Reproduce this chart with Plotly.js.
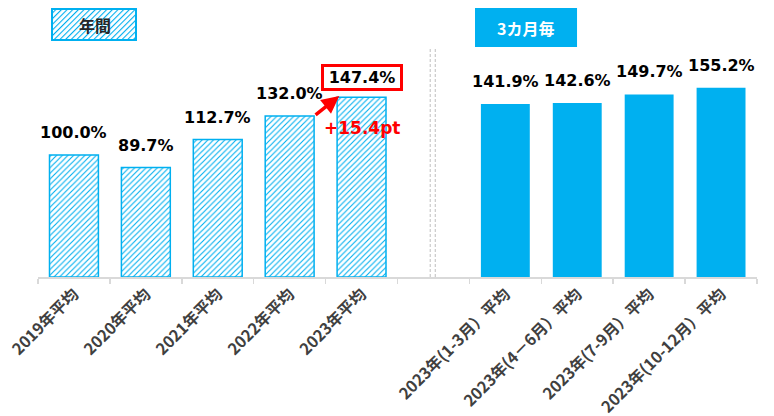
<!DOCTYPE html>
<html><head><meta charset="utf-8">
<script src="https://cdn.plot.ly/plotly-3.0.1.min.js"></script>
<style>html,body{margin:0;padding:0;background:#fff}#c{width:774px;height:416px}</style>
</head><body><div id="c"></div>
<script>
const annualCats = ["2019年平均","2020年平均","2021年平均","2022年平均","2023年平均"];
const annualVals = [100.0, 89.7, 112.7, 132.0, 147.4];
const gapCat = [" "];
const quarterCats = ["2023年(1-3月）平均","2023年(4－6月）平均","2023年(7-9月）平均","2023年(10-12月）平均"];
const quarterVals = [141.9, 142.6, 149.7, 155.2];
const diffLabel = "+15.4pt";
const boxLabels = ["年間", "3カ月毎"];

const allCats = annualCats.concat(gapCat, quarterCats);
const blue = "#00b0f0";
const bw = 0.68;
const labelFont = {family: "DejaVu Sans, Verdana, sans-serif", size: 16, color: "#000"};

const traces = [
  {type: "bar", x: annualCats, y: annualVals, width: bw,
   marker: {color: "#fff", line: {color: blue, width: 1.5},
            pattern: {shape: "/", fgcolor: blue, bgcolor: "#fff", size: 4, solidity: 0.28}},
   hoverinfo: "none", showlegend: false},
  {type: "bar", x: quarterCats, y: quarterVals, width: bw,
   marker: {color: blue, line: {width: 0}}, hoverinfo: "none", showlegend: false}
];

const ann = [];
annualCats.forEach((c, i) => {
  const last = i === annualCats.length - 1;
  const a = {x: c, y: annualVals[i], xref: "x", yref: "y", text: "<b>" + annualVals[i].toFixed(1) + "%</b>",
    showarrow: false, yanchor: "bottom", yshift: last ? 6 : 11, font: labelFont};
  if (last) { Object.assign(a, {bordercolor: "#ff0000", borderwidth: 3, borderpad: 1, bgcolor: "#fff", width: 74, height: 19}); }
  ann.push(a);
});
quarterCats.forEach((c, i) => {
  ann.push({x: c, y: quarterVals[i], xref: "x", yref: "y", text: "<b>" + quarterVals[i].toFixed(1) + "%</b>",
    showarrow: false, yanchor: "bottom", yshift: 11, font: labelFont});
});
// arrow from 2022 bar top-right to 2023 bar top-left
ann.push({x: 4 - bw / 2 + 0.03, y: annualVals[4] + 1, ax: 3 + bw / 2, ay: annualVals[3],
  xref: "x", yref: "y", axref: "x", ayref: "y", text: "", showarrow: true,
  arrowhead: 2, arrowsize: 1, arrowwidth: 3.5, arrowcolor: "#ff0000"});
ann.push({x: 4, y: annualVals[4], xref: "x", yref: "y", text: "<b>" + diffLabel + "</b>", showarrow: false,
  yanchor: "middle", yshift: -31, font: {family: "DejaVu Sans, Verdana, sans-serif", size: 17, color: "#ff0000"}});
// box labels
ann.push({x: 0.0793, y: 0.944, xref: "paper", yref: "paper", xanchor: "center", yanchor: "middle",
  text: "<b>" + boxLabels[0] + "</b>", showarrow: false,
  font: {family: "Noto Sans CJK JP", size: 16, color: "#262626"}});
ann.push({x: 0.6787, y: 0.934, xref: "paper", yref: "paper", xanchor: "center", yanchor: "middle",
  text: "<b>" + boxLabels[1] + "</b>", showarrow: false,
  font: {family: "Noto Sans CJK JP", size: 16, color: "#fff"}});

const hatchSvg = '<svg xmlns="http://www.w3.org/2000/svg" width="86" height="33">' +
  '<defs><pattern id="p" width="4" height="4" patternUnits="userSpaceOnUse" patternTransform="rotate(45)">' +
  '<rect width="4" height="4" fill="white"/><rect width="1.1" height="4" fill="#00b0f0"/></pattern></defs>' +
  '<rect x="1" y="1" width="84" height="31" fill="url(#p)" stroke="#00b0f0" stroke-width="2"/></svg>';

const layout = {
  width: 774, height: 416,
  margin: {l: 38, r: 17, t: 10, b: 139},
  paper_bgcolor: "#fff", plot_bgcolor: "#fff",
  bargap: 0.3,
  xaxis: {type: "category", categoryorder: "array", categoryarray: allCats, range: [-0.5, 9.5],
    showline: true, linecolor: "#d9d9d9", linewidth: 1.5, ticks: "outside", tickson: "boundaries",
    ticklen: 5, tickcolor: "#d9d9d9", tickwidth: 1.5, tickangle: -45, showgrid: false, zeroline: false,
    tickfont: {family: "Noto Sans CJK JP", size: 16, color: "#404040", weight: 700}, fixedrange: true},
  yaxis: {visible: false, range: [0, 218.9], fixedrange: true},
  annotations: ann,
  shapes: [
    {type: "line", xref: "x", yref: "paper", x0: 4.955, x1: 4.955, y0: 0, y1: 0.861,
     line: {color: "#bfbfbf", width: 1, dash: "3px,2px"}},
    {type: "line", xref: "x", yref: "paper", x0: 5.025, x1: 5.025, y0: 0, y1: 0.861,
     line: {color: "#bfbfbf", width: 1, dash: "3px,2px"}},
    {type: "rect", xref: "paper", yref: "paper", x0: 0.6078, x1: 0.7497, y0: 0.861, y1: 1.0075,
     fillcolor: blue, line: {width: 0}}
  ],
  images: [{source: "data:image/svg+xml;charset=utf-8," + encodeURIComponent(hatchSvg),
    xref: "paper", yref: "paper", x: 0.0181, y: 1.0075, sizex: 0.1196, sizey: 0.1236,
    sizing: "stretch", xanchor: "left", yanchor: "top", layer: "above"}]
};
Plotly.newPlot("c", traces, layout, {displayModeBar: false, staticPlot: true});
</script></body></html>
